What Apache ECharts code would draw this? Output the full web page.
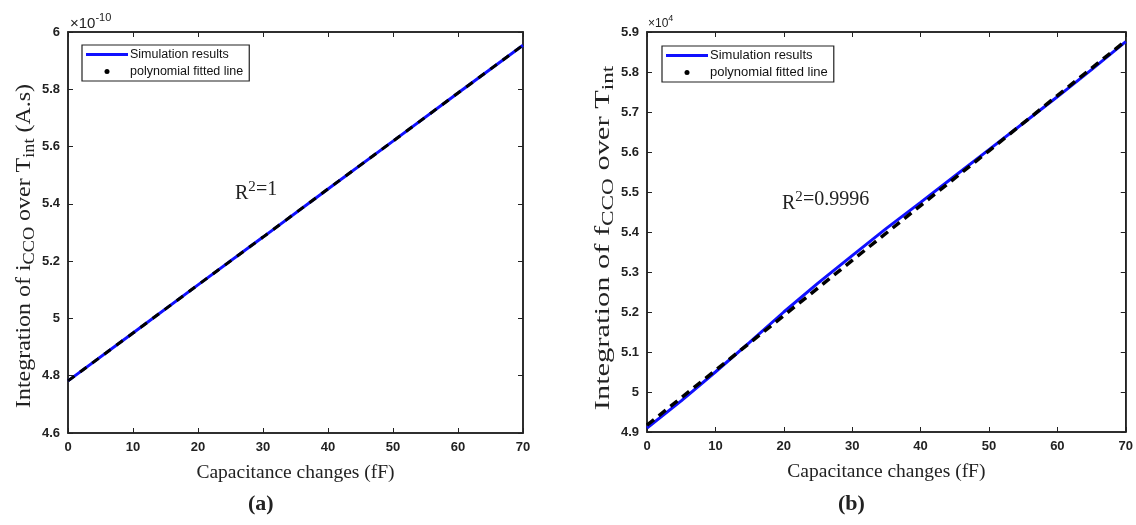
<!DOCTYPE html>
<html>
<head>
<meta charset="utf-8">
<script src="https://cdn.jsdelivr.net/npm/echarts@6/dist/echarts.min.js"></script>
<style>
  html, body { margin: 0; background: #fff; }
  #chart { width: 1136px; height: 525px; }
</style>
</head>
<body>
<div id="chart"></div>
<script>
// (a) current integration, values in units of 1e-10 A.s
const capA = [0, 10, 20, 30, 40, 50, 60, 70];
const simA = [4.782, 4.949, 5.117, 5.284, 5.452, 5.619, 5.787, 5.954];
const fitA = [4.782, 4.949, 5.117, 5.284, 5.452, 5.619, 5.787, 5.954];

// (b) frequency integration, values in units of 1e4
const capB = [0, 5, 10, 15, 20, 25, 30, 35, 40, 45, 50, 55, 60, 65, 70];
const simB = [4.910, 4.978, 5.050, 5.124, 5.200, 5.272, 5.341, 5.409, 5.474, 5.540, 5.606, 5.672, 5.738, 5.806, 5.876];
const capBFit = [0, 10, 20, 30, 40, 50, 60, 70];
const fitB = [4.917, 5.054, 5.191, 5.329, 5.466, 5.603, 5.741, 5.878];

const xTicks = [0, 10, 20, 30, 40, 50, 60, 70];
const yTicksA = [4.6, 4.8, 5, 5.2, 5.4, 5.6, 5.8, 6];
const yTicksB = [4.9, 5, 5.1, 5.2, 5.3, 5.4, 5.5, 5.6, 5.7, 5.8, 5.9];

const pairs = (xs, ys) => xs.map((x, i) => [x, ys[i]]);

const ink = '#222';
const serif = '"Liberation Serif", "DejaVu Serif", serif';
const sans = '"Liberation Sans", Arial, sans-serif';

const tickLabel = { color: ink, fontFamily: sans, fontWeight: 'bold', fontSize: 13, margin: 8 };

function xAx(grid, pos) {
    return {
        type: 'value', gridIndex: grid, position: pos,
        min: xTicks[0], max: xTicks[xTicks.length - 1], interval: 10,
        splitLine: { show: false },
        axisLine: { show: true, onZero: false, lineStyle: { color: ink, width: 1.5 } },
        axisTick: { show: true, inside: true, length: 5, lineStyle: { color: ink } },
        axisLabel: pos === 'bottom' ? tickLabel : { show: false },
        name: pos === 'bottom' ? 'Capacitance changes (fF)' : '',
        nameLocation: 'middle', nameGap: 30,
        nameTextStyle: { color: ink, fontFamily: serif, fontSize: 19.5 }
    };
}

function yAx(grid, pos, ticks, step) {
    return {
        type: 'value', gridIndex: grid, position: pos,
        min: ticks[0], max: ticks[ticks.length - 1], interval: step,
        splitLine: { show: false },
        axisLine: { show: true, onZero: false, lineStyle: { color: ink, width: 1.5 } },
        axisTick: { show: true, inside: true, length: 5, lineStyle: { color: ink } },
        axisLabel: pos === 'left' ? Object.assign({ formatter: v => String(+v.toFixed(1)) }, tickLabel) : { show: false }
    };
}

const legendIcons = {
    line: 'path://M0,0 M42,12 M0,4.5 L42,4.5 L42,7.5 L0,7.5 Z',
    dot: 'path://M0,0 M42,12 M18.5,6 A2.5,2.5 0 1,1 23.5,6 A2.5,2.5 0 1,1 18.5,6 Z'
};

function legendAt(left, top, fs) {
    return {
        left: left, top: top, orient: 'vertical',
        borderColor: ink, borderWidth: 1.2, borderRadius: 0,
        padding: [3, 6, 3, 4], itemGap: 4, itemWidth: 42, itemHeight: 12,
        selectedMode: false,
        textStyle: { color: '#111', fontFamily: sans, fontSize: fs, padding: [0, 0, 0, -3] },
        itemStyle: { borderWidth: 0 },
        lineStyle: { width: 0 },
        data: [
            { name: 'Simulation results', icon: legendIcons.line },
            { name: 'polynomial fitted line', icon: legendIcons.dot }
        ]
    };
}

function supText(x, y, base, sup, fs, sfs, font) {
    return {
        type: 'text', left: x, top: y,
        style: {
            text: '{n|' + base + '}{s|' + sup + '}',
            rich: {
                n: { fontFamily: font, fontSize: fs, fill: ink, lineHeight: fs + 4, verticalAlign: 'bottom' },
                s: { fontFamily: font, fontSize: sfs, fill: ink, lineHeight: fs + 4, verticalAlign: 'top' }
            }
        }
    };
}

// rotated y axis title, stretched along its length like the source figure
function yTitle(x, y, text, fs, stretch) {
    return {
        type: 'text', x: x, y: y, rotation: Math.PI / 2, scaleX: stretch, scaleY: 1,
        style: {
            text: text, align: 'center', verticalAlign: 'middle',
            rich: {
                n: { fontFamily: serif, fontSize: fs, fill: ink, lineHeight: fs + 7, verticalAlign: 'middle' },
                sub: { fontFamily: serif, fontSize: Math.round(fs * 0.74), fill: ink, lineHeight: fs + 7, verticalAlign: 'bottom' }
            }
        }
    };
}

const chart = echarts.init(document.getElementById('chart'), null, { renderer: 'canvas' });

chart.setOption({
    backgroundColor: '#fff',
    animation: false,
    grid: [
        { left: 68, top: 32, width: 455, height: 401, show: true, borderColor: ink, borderWidth: 1.5 },
        { left: 647, top: 32, width: 480, height: 400, show: true, borderColor: ink, borderWidth: 1.5 }
    ],
    xAxis: [xAx(0, 'bottom'), xAx(1, 'bottom'), xAx(0, 'top'), xAx(1, 'top')],
    yAxis: [
        yAx(0, 'left', yTicksA, 0.2),
        yAx(1, 'left', yTicksB, 0.1),
        yAx(0, 'right', yTicksA, 0.2),
        yAx(1, 'right', yTicksB, 0.1)
    ],
    legend: [legendAt(82, 45, 12.5), legendAt(662, 46, 13)],
    series: [
        {
            name: 'Simulation results', type: 'line', xAxisIndex: 0, yAxisIndex: 0,
            data: pairs(capA, simA), showSymbol: false, symbol: 'none', color: '#1010ff',
            lineStyle: { color: '#1010ff', width: 3 }
        },
        {
            name: 'polynomial fitted line', type: 'line', xAxisIndex: 0, yAxisIndex: 0,
            data: pairs(capA, fitA), showSymbol: false, symbol: 'none', color: '#000',
            lineStyle: { color: '#000', width: 3, type: [8, 7] }
        },
        {
            name: 'Simulation results', type: 'line', xAxisIndex: 1, yAxisIndex: 1,
            data: pairs(capB, simB), showSymbol: false, symbol: 'none', color: '#1010ff',
            lineStyle: { color: '#1010ff', width: 3 }
        },
        {
            name: 'polynomial fitted line', type: 'line', xAxisIndex: 1, yAxisIndex: 1,
            data: pairs(capBFit, fitB), showSymbol: false, symbol: 'none', color: '#000',
            lineStyle: { color: '#000', width: 3.5, type: [9, 6] }
        }
    ],
    graphic: [
        yTitle(24, 246, '{n|Integration of i}{sub|CCO}{n| over T}{sub|int}{n| (A.s)}', 21, 1.14),
        yTitle(603, 238, '{n|Integration of f}{sub|CCO}{n| over T}{sub|int}', 21, 1.45),
        supText(70, 12, '\u00d710', '-10', 15, 11, sans),
        supText(648, 14, '\u00d710', '4', 12, 9, sans),
        supText(235, 180, 'R', '2', 20, 15, serif),
        { type: 'text', left: 256, top: 180, style: { text: '=1', font: '20px ' + serif, fill: ink } },
        supText(782, 190, 'R', '2', 20, 15, serif),
        { type: 'text', left: 803, top: 190, style: { text: '=0.9996', font: '20px ' + serif, fill: ink } },
        { type: 'text', left: 248, top: 493, style: { text: '(a)', font: 'bold 22px ' + serif, fill: ink } },
        { type: 'text', left: 838, top: 493, style: { text: '(b)', font: 'bold 22px ' + serif, fill: ink } }
    ]
});
</script>
</body>
</html>
